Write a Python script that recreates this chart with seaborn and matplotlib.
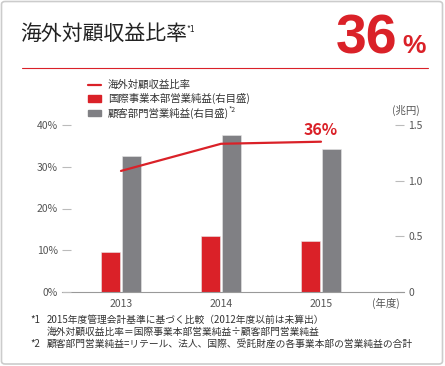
import matplotlib
matplotlib.use('Agg')
import numpy as np
import pandas as pd
import matplotlib.pyplot as plt
import seaborn as sns
from matplotlib.lines import Line2D
from matplotlib.patches import Patch, FancyBboxPatch

# data
years = ['2013', '2014', '2015']
overseas_ratio = [29.0, 35.5, 36.0]       # 海外対顧収益比率 (%)
intl_profit = [0.36, 0.50, 0.46]          # 国際事業本部営業純益 (兆円)
customer_profit = [1.22, 1.41, 1.28]      # 顧客部門営業純益 (兆円)
pct_ticks = [0, 10, 20, 30, 40]
yen_ticks = [0, 0.5, 1.0, 1.5]
yen_tick_labels = ['0', '0.5', '1.0', '1.5']

series_names = ['国際事業本部営業純益(右目盛)', '顧客部門営業純益(右目盛)']
df = pd.DataFrame({
    'year': years * 2,
    'series': [series_names[0]] * 3 + [series_names[1]] * 3,
    'value': intl_profit + customer_profit,
})

RED = '#DA2128'
GRAY = '#808084'
TXT = '#333333'
TICK = '#555555'

sns.set_theme(style='white')
plt.rcParams['font.family'] = ['Noto Sans CJK JP', 'DejaVu Sans']

W, H = 445, 366
fig = plt.figure(figsize=(W / 100, H / 100), dpi=100)


def fx(px):
    return px / W


def fy(py):
    return 1 - py / H


# frame and header rule
fig.add_artist(FancyBboxPatch((fx(1.5), fy(364)), fx(441), fy(1.5) - fy(364),
                              boxstyle='round,pad=0,rounding_size=0.008',
                              transform=fig.transFigure, fc='none', ec='#cccccc', lw=1.2))
fig.add_artist(Line2D([fx(22), fx(428)], [fy(68), fy(68)], color=RED, lw=0.8,
                      transform=fig.transFigure))

# header
fig.text(fx(20), fy(34), '海外対顧収益比率', fontsize=15, color='#222222', va='center', ha='left')
fig.text(fx(186), fy(29), '*1', fontsize=6, color='#222222', va='center', ha='left')
fig.text(fx(397), fy(53), '36', fontsize=40, fontweight='bold', color=RED,
         family='Liberation Sans', ha='right', va='baseline')
fig.text(fx(402), fy(53), '%', fontsize=19, fontweight='bold', color=RED,
         family='Liberation Sans', ha='left', va='baseline')

# bars (right axis)
ax = fig.add_axes([fx(62), fy(292), fx(404) - fx(62), fy(125) - fy(292)])
sns.barplot(data=df, x='year', y='value', hue='series', palette=[RED, GRAY],
            saturation=1, width=0.41, gap=0.07, legend=False, ax=ax,
            edgecolor='#e8e8e8', linewidth=0.4)
ax.set_ylim(0, 1.5)
ax.set_xlim(-0.59, 2.83)
ax.set_xticks(range(len(years)))
ax.set_xticklabels(years)
ax.set_xlabel('')
ax.set_ylabel('')

# ratio line (left axis)
ax2 = ax.twinx()
sns.lineplot(x=np.arange(len(years)), y=overseas_ratio, color=RED, lw=1.6, ax=ax2)
ax2.set_ylim(0, 40)

# swap sides: bar axis ticks on the right, ratio ticks on the left
ax.yaxis.tick_right()
ax2.yaxis.tick_left()
ax.set_yticks(yen_ticks)
ax.set_yticklabels(yen_tick_labels)
ax2.set_yticks(pct_ticks)
ax2.set_yticklabels([f'{t}%' for t in pct_ticks])
ax.tick_params(axis='y', direction='in', length=6.5, width=0.8, color='#bbbbbb',
               pad=3, labelsize=7.5, labelcolor=TICK)
ax2.tick_params(axis='y', direction='in', length=6.5, width=0.8, color='#bbbbbb',
                pad=3, labelsize=7.5, labelcolor=TICK)
ax.tick_params(axis='x', length=0, pad=5, labelsize=7.5, labelcolor=TICK)
for s in ['left', 'right', 'top']:
    ax.spines[s].set_visible(False)
ax.spines['bottom'].set_color('#999999')
ax.spines['bottom'].set_linewidth(0.8)
for s in ax2.spines.values():
    s.set_visible(False)

ax2.annotate(f'{overseas_ratio[-1]:.0f}%', xy=(len(years) - 1, overseas_ratio[-1]),
             xytext=(0, 3), textcoords='offset points', ha='center', va='bottom',
             color=RED, fontsize=11.5, fontweight='bold')

# unit labels
fig.text(fx(406), fy(110), '(兆円)', fontsize=7.5, color=TICK, ha='center', va='center')
fig.text(fx(386), fy(303), '(年度)', fontsize=7.5, color=TICK, ha='center', va='center')

# legend
handles = [Line2D([], [], color=RED, lw=1.6), Patch(color=RED), Patch(color=GRAY)]
labels = ['海外対顧収益比率'] + series_names
fig.legend(handles=handles, labels=labels, loc='upper left',
           bbox_to_anchor=(fx(88), fy(80)), frameon=False, fontsize=7.5,
           handlelength=1.2, handleheight=0.6, labelspacing=0.3, handletextpad=0.7,
           borderpad=0, borderaxespad=0, labelcolor=TXT)
fig.text(fx(229), fy(110), '*2', fontsize=5, color=TXT, ha='left', va='center')

# footnotes
fig.text(fx(30), fy(320), '*1', fontsize=7, color=TXT, va='center')
fig.text(fx(47), fy(320), '2015年度管理会計基準に基づく比較（2012年度以前は未算出）',
         fontsize=7, color=TXT, va='center')
fig.text(fx(47), fy(332), '海外対顧収益比率＝国際事業本部営業純益÷顧客部門営業純益',
         fontsize=7, color=TXT, va='center')
fig.text(fx(30), fy(344), '*2', fontsize=7, color=TXT, va='center')
fig.text(fx(47), fy(344), '顧客部門営業純益=リテール、法人、国際、受託財産の各事業本部の営業純益の合計',
         fontsize=7, color=TXT, va='center')

fig.savefig('out.png', dpi=100, facecolor='white')
